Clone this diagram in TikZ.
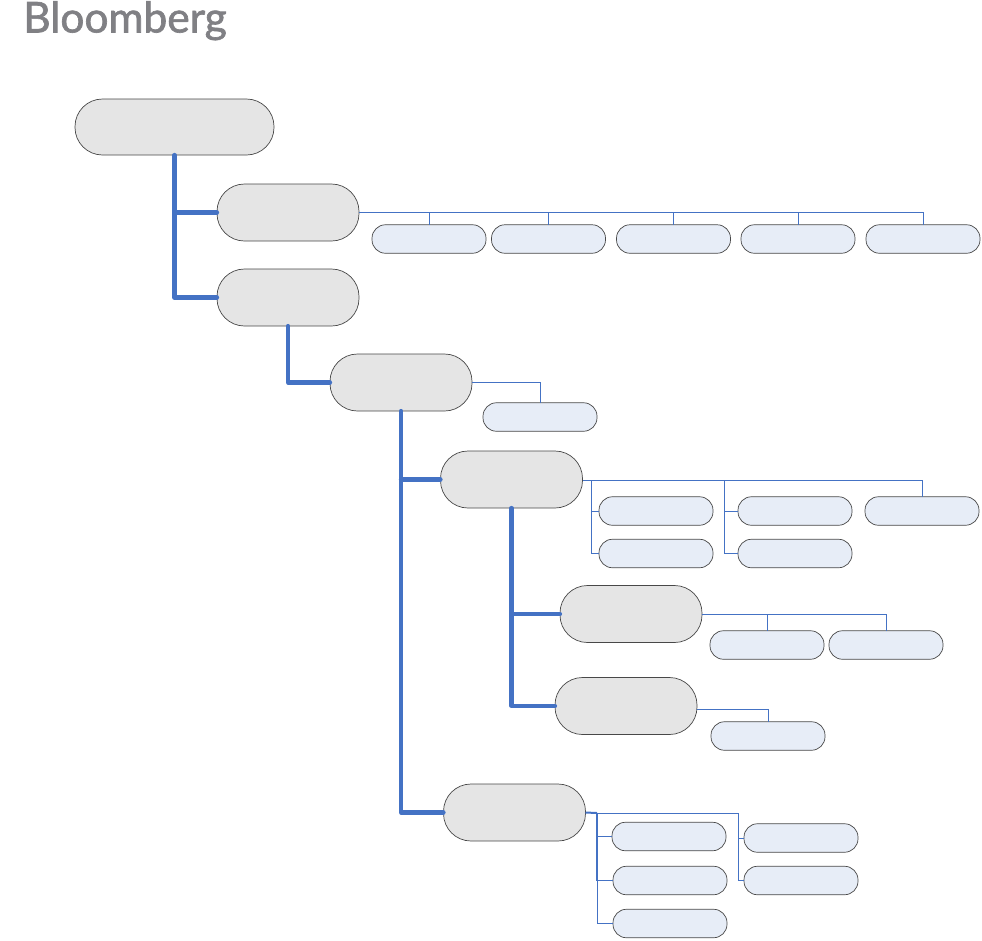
\documentclass[tikz,border=0pt]{standalone}
\usepackage{fontspec}
\setmainfont{Lato}
\newfontfamily\logofont[FakeBold=1.6]{Lato}
\definecolor{linkblue}{HTML}{4472C4}
\definecolor{biggrey}{HTML}{E5E5E5}
\definecolor{smallblue}{HTML}{E7EDF7}
\definecolor{edgegrey}{HTML}{484848}
\definecolor{logogrey}{HTML}{808084}
\tikzset{
  bigbox/.style={draw=edgegrey,fill=biggrey,line width=0.7pt,rectangle,rounded corners=27.5pt,minimum width=142pt,minimum height=57pt,inner sep=0pt,outer sep=0pt},
  smallbox/.style={draw=edgegrey,fill=smallblue,line width=0.7pt,rectangle,rounded corners=13.5pt,minimum width=114pt,minimum height=28.5pt,inner sep=0pt,outer sep=0pt},
  thicklink/.style={draw=linkblue,line width=4.2pt,line cap=round,line join=round},
  midlink/.style={draw=linkblue,line width=2pt},
  thinlink/.style={draw=linkblue,line width=1pt},
}
\begin{document}
\begin{tikzpicture}[x=1pt,y=-1pt]
\useasboundingbox (0,0) rectangle (982,940);
\node[anchor=base west,inner sep=0pt,text=logogrey,font=\logofont\fontsize{42.5}{42.5}\selectfont] (logo) at (23,32.5) {Bloomberg};
% large nodes
\node[bigbox,minimum width=199pt,minimum height=56pt] (root) at (174.5,127) {};
\node[bigbox] (a) at (288,212.5) {};
\node[bigbox] (b) at (288,297.5) {};
\node[bigbox] (c) at (401,382.5) {};
\node[bigbox] (d) at (511.5,479.5) {};
\node[bigbox] (e) at (631,614) {};
\node[bigbox] (f) at (626,706) {};
\node[bigbox] (g) at (514.5,812.5) {};
% small nodes
\node[smallbox] (a1) at (429,239) {};
\node[smallbox] (a2) at (548.5,239) {};
\node[smallbox] (a3) at (673.5,239) {};
\node[smallbox] (a4) at (798,239) {};
\node[smallbox] (a5) at (923,239) {};
\node[smallbox] (c1) at (540,417) {};
\node[smallbox] (d1) at (656,511) {};
\node[smallbox] (d2) at (656,553.5) {};
\node[smallbox] (d3) at (795,511) {};
\node[smallbox] (d4) at (795,553.5) {};
\node[smallbox] (d5) at (922,511) {};
\node[smallbox] (e1) at (767,645) {};
\node[smallbox] (e2) at (886,645) {};
\node[smallbox] (f1) at (768,736) {};
\node[smallbox] (g1) at (669,836.5) {};
\node[smallbox] (g2) at (670,880.5) {};
\node[smallbox] (g3) at (670,923.5) {};
\node[smallbox] (g4) at (801,838) {};
\node[smallbox] (g5) at (801,880.5) {};
% junctions
\coordinate (rv) at (174.5,155);
\coordinate (dv1) at (591.5,480.5);
\coordinate (dv2) at (724.5,480.5);
\coordinate (dstart) at (582.5,480.5);
\coordinate (fstart) at (697,709.5);
\coordinate (gv1) at (597,813);
\coordinate (gv2) at (738,813);
% thick links
\draw[thicklink] (rv) |- (b.west);
\draw[thicklink] (174.5,212.5) -- (a.west);
\draw[thicklink] (b.south) |- (c.west);
\draw[thicklink] (c.south) |- (g.west);
\draw[thicklink] (401,479.5) -- (d.west);
\draw[thicklink] (d.south) |- (f.west);
\draw[thicklink] (511.5,614) -- (e.west);
% thin links
\draw[thinlink] (a.east) -| (a1.north);
\draw[thinlink] (a.east) -| (a2.north);
\draw[thinlink] (a.east) -| (a3.north);
\draw[thinlink] (a.east) -| (a4.north);
\draw[thinlink] (a.east) -| (a5.north);
\draw[thinlink] (c.east) -| (c1.north);
\draw[thinlink] (dstart) -| (d5.north);
\draw[thinlink] (dv1) |- (d1.west);
\draw[thinlink] (dv1) |- (d2.west);
\draw[thinlink] (dv2) |- (d3.west);
\draw[thinlink] (dv2) |- (d4.west);
\draw[thinlink] (e.east) -| (e1.north);
\draw[thinlink] (e.east) -| (e2.north);
\draw[thinlink] (fstart) -| (f1.north);
\draw[midlink] (g.east) -- (gv1);
\draw[midlink] (gv1) -- (gv1 |- g2.west);
\draw[thinlink] (gv1) -- (gv2);
\draw[thinlink] (gv1) |- (g1.west);
\draw[thinlink] (gv1) |- (g2.west);
\draw[thinlink] (gv1) |- (g3.west);
\draw[thinlink] (gv2) |- (g4.west);
\draw[thinlink] (gv2) |- (g5.west);
\end{tikzpicture}
\end{document}
